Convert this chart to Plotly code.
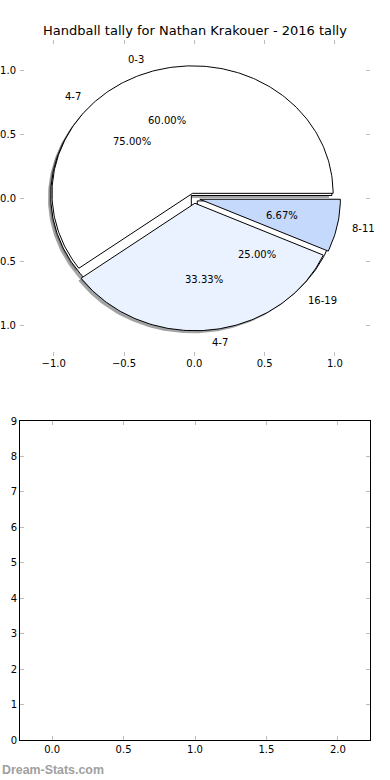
import numpy as np
import plotly.graph_objects as go

title_text = "Handball tally for Nathan Krakouer - 2016 tally"
pie1_labels = ["0-3", "4-7", "8-11"]
pie1_values = [9, 5, 1]
pie2_labels = ["4-7", "16-19"]
pie2_values = [3, 1]
pie1_colors = ["#ffffff", "#ebf2ff", "#c5d9fd"]
pie2_colors = ["#ffffff", "#ffffff"]
pie1_explode = 0.04
pie2_explode = 0.03
top_ticks = [-1.0, -0.5, 0.0, 0.5, 1.0]
bottom_xticks = [0.0, 0.5, 1.0, 1.5, 2.0]
bottom_yticks = list(range(10))

FONT = "DejaVu Sans"


def wedges(values, explode):
    vals = np.asarray(values, dtype=float)
    fr = vals / vals.sum()
    out = []
    t1 = 0.0
    for f in fr:
        t2 = t1 + f
        a1, a2 = 2 * np.pi * t1, 2 * np.pi * t2
        mid = (a1 + a2) / 2
        cx, cy = explode * np.cos(mid), explode * np.sin(mid)
        th = np.linspace(a1, a2, max(int(f * 360), 8))
        xs = np.concatenate([[cx], cx + np.cos(th), [cx]])
        ys = np.concatenate([[cy], cy + np.sin(th), [cy]])
        out.append(dict(xs=xs, ys=ys, cx=cx, cy=cy, mid=mid, frac=f))
        t1 = t2
    return out


def shade(hexcol):
    h = hexcol.lstrip("#")
    r, g, b = (int(h[i:i + 2], 16) for i in (0, 2, 4))
    return "rgba(%d,%d,%d,0.5)" % (0.3 * r, 0.3 * g, 0.3 * b)


w1 = wedges(pie1_values, pie1_explode)
w2 = wedges(pie2_values, pie2_explode)

fig = go.Figure()

# shadows (below all wedges)
for ws, cols in ((w2, pie2_colors), (w1, pie1_colors)):
    for w, c in zip(ws, cols):
        fig.add_trace(go.Scatter(x=w["xs"] - 0.02, y=w["ys"] - 0.02, mode="lines",
                                 fill="toself", fillcolor=shade(c),
                                 line=dict(width=0), hoverinfo="skip",
                                 showlegend=False, xaxis="x", yaxis="y"))
# wedges
for ws, cols in ((w2, pie2_colors), (w1, pie1_colors)):
    for w, c in zip(ws, cols):
        fig.add_trace(go.Scatter(x=w["xs"], y=w["ys"], mode="lines",
                                 fill="toself", fillcolor=c,
                                 line=dict(width=1, color="black"), hoverinfo="skip",
                                 showlegend=False, xaxis="x", yaxis="y"))

# empty lower axes
fig.add_trace(go.Scatter(x=[], y=[], xaxis="x2", yaxis="y2", showlegend=False))

annotations = []
for ws, labs, ex in ((w1, pie1_labels, pie1_explode), (w2, pie2_labels, pie2_explode)):
    for w, lab in zip(ws, labs):
        lx = 1.1 * np.cos(w["mid"]) + w["cx"]
        ly = 1.1 * np.sin(w["mid"]) + w["cy"]
        annotations.append(dict(x=lx, y=ly, xref="x", yref="y", text=lab, showarrow=False,
                                xanchor="left" if lx > 0 else "right", yanchor="middle",
                                font=dict(family=FONT, size=10, color="black"), borderpad=0))
        px = 0.6 * np.cos(w["mid"]) + w["cx"]
        py = 0.6 * np.sin(w["mid"]) + w["cy"]
        annotations.append(dict(x=px, y=py, xref="x", yref="y", text="%.2f%%" % (w["frac"] * 100),
                                showarrow=False, xanchor="center", yanchor="middle",
                                font=dict(family=FONT, size=10, color="black"), borderpad=0))

annotations.append(dict(x=-20 / 350, y=1 - 770 / 780, xref="paper", yref="paper",
                        text="<b>Dream-Stats.com</b>", showarrow=False, xanchor="left",
                        yanchor="middle", font=dict(family="Liberation Sans", size=12.4, color="#a0a0a0")))

tickfont = dict(family=FONT, size=10, color="black")
common = dict(ticks="inside", ticklen=4, tickcolor="#bdbdbd", mirror="ticks", showgrid=False,
              zeroline=False, tickfont=tickfont, automargin=False, fixedrange=True)
fig.update_layout(
    template="none",
    width=390, height=780,
    margin=dict(l=20, r=20, t=0, b=0, pad=0),
    paper_bgcolor="white", plot_bgcolor="white",
    title=dict(text=title_text, x=0.5, xref="container", y=1 - 30 / 780, yref="container",
               xanchor="center", yanchor="middle", font=dict(family=FONT, size=13, color="black")),
    showlegend=False,
    annotations=annotations,
    xaxis=dict(domain=[0, 1], range=[-1.24, 1.25], anchor="y", tickvals=top_ticks,
               tickformat=".1f", showline=False, **common),
    yaxis=dict(domain=[1 - 356 / 780, 1 - 40 / 780], range=[-1.238, 1.241], anchor="x",
               tickvals=top_ticks, tickformat=".1f", showline=False, ticklabelstandoff=3, **common),
    xaxis2=dict(domain=[0, 1], range=[-0.225, 2.225], anchor="y2", tickvals=bottom_xticks,
                tickformat=".1f", showline=True, linecolor="black", linewidth=1, **common),
    yaxis2=dict(domain=[1 - 740 / 780, 1 - 421 / 780], range=[0, 9], anchor="x2",
                tickvals=bottom_yticks, showline=True, linecolor="black", linewidth=1, **common),
)

fig.write_html("out.html", config={"displayModeBar": False},
               post_script="document.body.style.margin='0';document.body.style.padding='0';")
